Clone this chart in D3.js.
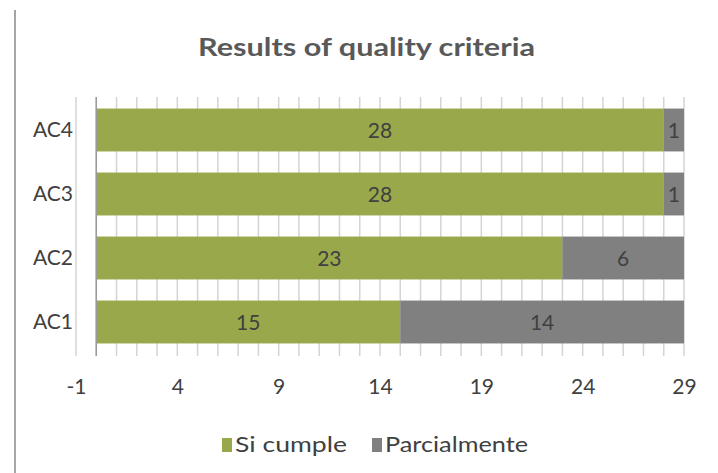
<!DOCTYPE html>
<html><head><meta charset="utf-8">
<script src="https://cdn.jsdelivr.net/npm/d3@7"></script>
<style>
body{margin:0;background:#fff;}
text{font-family:Lato,"Open Sans",sans-serif;}
</style></head><body>
<svg id="c" width="718" height="473"></svg>
<script>
const categories = ["AC1","AC2","AC3","AC4"];
const siCumple = [15,23,28,28];
const parcialmente = [14,6,1,1];
const seriesNames = ["Si cumple","Parcialmente"];
const xTicks = [-1,4,9,14,19,24,29];
const colors = ["#98a84b","#808080"];
const title = "Results of quality criteria";

const svg = d3.select("#c");
const W=718,H=473;
svg.append("rect").attr("width",W).attr("height",H).attr("fill","#fff");
svg.append("line").attr("x1",15).attr("x2",15).attr("y1",10).attr("y2",H).attr("stroke","#a6a6a6").attr("stroke-width",2);

const x = d3.scaleLinear().domain([-1,29]).range([76,684]);
const y = d3.scaleBand().domain(categories.slice().reverse()).range([98,354]).paddingInner(0.33).paddingOuter(0.165);

// gridlines every unit
const units = d3.range(-1,30);
svg.append("g").selectAll("line").data(units).join("line")
  .attr("x1",d=>x(d)).attr("x2",d=>x(d)).attr("y1",97).attr("y2",356)
  .attr("stroke","#d4d4d4").attr("stroke-width",1.5);

const rows = categories.map((c,i)=>({c, vals:[siCumple[i],parcialmente[i]]}));
rows.forEach(r=>{
  let acc=0;
  r.vals.forEach((v,k)=>{
    svg.append("rect").attr("x",x(acc)).attr("width",x(acc+v)-x(acc))
      .attr("y",y(r.c)).attr("height",y.bandwidth()).attr("fill",colors[k]);
    svg.append("text").attr("x",(x(acc)+x(acc+v))/2).attr("y",y(r.c)+y.bandwidth()/2)
      .attr("dy","0.36em").attr("text-anchor","middle").attr("font-size",21).attr("fill","#404040").text(v);
    acc+=v;
  });
});

// y axis line at 0
svg.append("line").attr("x1",x(0)).attr("x2",x(0)).attr("y1",97).attr("y2",356).attr("stroke","#9a9a9a").attr("stroke-width",1.5);

// x tick labels
const xa = svg.append("g").attr("transform","translate(0,379)").call(d3.axisBottom(x).tickValues(xTicks).tickFormat(d=>String(d)).tickSize(0).tickPadding(0));
xa.select(".domain").remove();
xa.selectAll("text").attr("font-size",21).attr("fill","#404040").attr("font-family",null);

// y labels
const ya = svg.append("g").attr("transform","translate(73,0)").call(d3.axisLeft(y).tickSize(0).tickPadding(0));
ya.select(".domain").remove();
ya.selectAll("text").attr("font-size",21).attr("fill","#404040").attr("font-family",null);

// title
svg.append("text").attr("x",198).attr("y",56)
  .attr("font-size",24).attr("font-weight","bold").attr("fill","#595959")
  .attr("textLength",337).attr("lengthAdjust","spacingAndGlyphs").text(title);

// legend
const leg = [{x:222,tx:235,w:112},{x:372,tx:385,w:143}];
seriesNames.forEach((s,i)=>{
  svg.append("rect").attr("x",leg[i].x).attr("y",438).attr("width",10).attr("height",14).attr("fill",colors[i]);
  svg.append("text").attr("x",leg[i].tx).attr("y",452).attr("font-size",21).attr("fill","#404040")
    .attr("textLength",leg[i].w).attr("lengthAdjust","spacingAndGlyphs").text(s);
});
</script></body></html>
